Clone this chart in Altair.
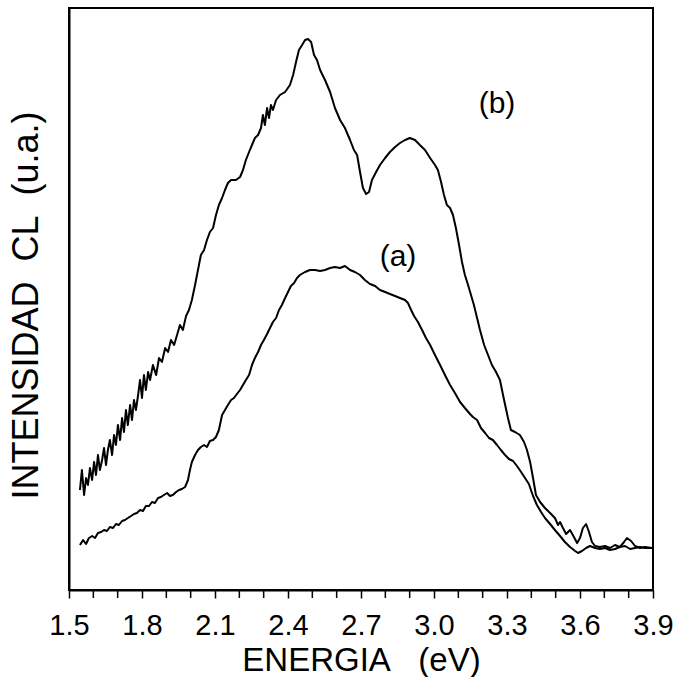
import altair as alt
import pandas as pd

# Curve (b): energy (eV) and CL intensity (arbitrary units)
energy_b = [1.545, 1.553, 1.562, 1.570, 1.578, 1.586, 1.595, 1.603, 1.611, 1.619,
            1.627, 1.636, 1.644, 1.652, 1.660, 1.668, 1.677, 1.685, 1.693, 1.701,
            1.710, 1.718, 1.726, 1.734, 1.742, 1.751, 1.759, 1.767, 1.775, 1.784,
            1.792, 1.800, 1.808, 1.816, 1.825, 1.833, 1.845, 1.858, 1.870, 1.882,
            1.895, 1.907, 1.919, 1.932, 1.944, 1.956, 1.968, 1.981, 1.993, 2.005,
            2.018, 2.030, 2.042, 2.055, 2.067, 2.079, 2.092, 2.104, 2.116, 2.129,
            2.141, 2.153, 2.166, 2.186, 2.203, 2.215, 2.227, 2.240, 2.252, 2.264,
            2.277, 2.289, 2.297, 2.305, 2.314, 2.322, 2.330, 2.338, 2.351, 2.367,
            2.388, 2.408, 2.421, 2.433, 2.445, 2.458, 2.470, 2.482, 2.495, 2.507,
            2.519, 2.532, 2.552, 2.573, 2.593, 2.614, 2.634, 2.655, 2.671, 2.684,
            2.696, 2.708, 2.721, 2.733, 2.745, 2.762, 2.778, 2.799, 2.819, 2.840,
            2.860, 2.881, 2.901, 2.922, 2.942, 2.963, 2.984, 3.004, 3.016, 3.029,
            3.041, 3.053, 3.066, 3.078, 3.090, 3.103, 3.115, 3.127, 3.140, 3.152,
            3.164, 3.177, 3.189, 3.206, 3.222, 3.238, 3.255, 3.271, 3.288, 3.304,
            3.316, 3.333, 3.353, 3.370, 3.382, 3.395, 3.407, 3.419, 3.436, 3.456,
            3.477, 3.497, 3.510, 3.518, 3.530, 3.543, 3.559, 3.575, 3.588, 3.600,
            3.612, 3.625, 3.637, 3.649, 3.662, 3.682, 3.703, 3.723, 3.744, 3.764,
            3.781, 3.793, 3.810, 3.826, 3.847, 3.867, 3.896]
intens_b = [100, 120, 95, 112, 105, 122, 110, 128, 115, 135,
            120, 130, 142, 125, 140, 150, 135, 155, 145, 165,
            150, 172, 158, 180, 165, 185, 170, 190, 180, 195,
            210, 192, 215, 200, 218, 210, 225, 215, 232, 228,
            242, 238, 250, 245, 255, 265, 260, 274, 280, 290,
            305, 320, 335, 340, 350, 358, 362, 375, 385, 392,
            400, 407, 410, 410, 413, 420, 430, 438, 445, 452,
            455, 462, 475, 465, 482, 472, 485, 480, 490, 495,
            498, 505, 515, 528, 540, 545, 550, 551, 548, 535,
            530, 520, 510, 498, 482, 470, 462, 450, 440, 435,
            418, 402, 396, 398, 410, 418, 425, 432, 438, 443,
            447, 450, 452, 450, 445, 440, 432, 425, 420, 408,
            395, 385, 382, 375, 362, 345, 328, 315, 305, 295,
            285, 272, 260, 245, 235, 225, 218, 210, 190, 172,
            160, 158, 155, 148, 140, 128, 112, 95, 88, 82,
            77, 72, 65, 68, 62, 56, 60, 53, 47, 52,
            62, 66, 58, 48, 44, 43, 44, 42, 45, 43,
            48, 52, 49, 44, 42, 43, 42]

# Curve (a)
energy_a = [1.545, 1.558, 1.570, 1.582, 1.595, 1.607, 1.619, 1.632, 1.644, 1.656,
            1.668, 1.681, 1.693, 1.705, 1.718, 1.730, 1.742, 1.755, 1.767, 1.779,
            1.792, 1.804, 1.816, 1.829, 1.841, 1.853, 1.866, 1.878, 1.890, 1.903,
            1.915, 1.927, 1.940, 1.952, 1.964, 1.977, 1.989, 1.997, 2.005, 2.018,
            2.030, 2.042, 2.055, 2.067, 2.079, 2.092, 2.104, 2.116, 2.129, 2.141,
            2.153, 2.166, 2.178, 2.190, 2.203, 2.215, 2.227, 2.240, 2.252, 2.264,
            2.277, 2.289, 2.301, 2.314, 2.326, 2.338, 2.351, 2.363, 2.375, 2.388,
            2.400, 2.412, 2.425, 2.437, 2.449, 2.470, 2.490, 2.511, 2.532, 2.552,
            2.573, 2.593, 2.614, 2.634, 2.655, 2.675, 2.696, 2.716, 2.737, 2.758,
            2.778, 2.799, 2.819, 2.840, 2.860, 2.881, 2.893, 2.906, 2.918, 2.934,
            2.951, 2.967, 2.984, 3.004, 3.025, 3.045, 3.066, 3.086, 3.107, 3.127,
            3.148, 3.160, 3.177, 3.193, 3.210, 3.226, 3.242, 3.259, 3.275, 3.292,
            3.308, 3.325, 3.341, 3.358, 3.374, 3.390, 3.407, 3.423, 3.440, 3.456,
            3.477, 3.497, 3.518, 3.538, 3.559, 3.580, 3.592, 3.608, 3.625, 3.641,
            3.662, 3.682, 3.703, 3.723, 3.744, 3.764, 3.785, 3.806, 3.826, 3.847,
            3.867, 3.896]
intens_a = [45, 50, 46, 52, 54, 52, 57, 58, 60, 59,
            63, 62, 66, 65, 69, 70, 72, 74, 76, 77,
            80, 79, 84, 84, 88, 87, 92, 93, 95, 97,
            94, 95, 98, 100, 101, 103, 110, 120, 128, 135,
            140, 143, 145, 143, 149, 150, 153, 160, 175, 180,
            185, 190, 192, 196, 200, 205, 210, 215, 225, 232,
            238, 245, 250, 256, 262, 268, 272, 280, 285, 292,
            298, 304, 307, 312, 315, 318, 320, 320, 319, 320,
            322, 323, 322, 324, 320, 318, 315, 310, 306, 304,
            300, 298, 296, 294, 292, 290, 287, 280, 274, 268,
            260, 252, 245, 235, 225, 215, 205, 197, 188, 182,
            176, 173, 170, 162, 157, 152, 150, 145, 140, 135,
            131, 129, 124, 118, 112, 106, 94, 85, 78, 72,
            66, 60, 54, 48, 43, 39, 37, 39, 42, 44,
            42, 41, 42, 40, 41, 43, 44, 41, 42, 43,
            42, 42]

major_ticks = [1.5, 1.8, 2.1, 2.4, 2.7, 3.0, 3.3, 3.6, 3.9]
minor_ticks = [1.6, 1.7, 1.9, 2.0, 2.2, 2.3, 2.5, 2.6, 2.8, 2.9, 3.1, 3.2,
               3.4, 3.5, 3.7, 3.8]

label_text = ["(a)", "(b)"]
label_e = [2.852, 3.259]
label_i = [333, 486]

df = pd.concat([
    pd.DataFrame({"E": energy_b, "I": intens_b, "s": "b"}),
    pd.DataFrame({"E": energy_a, "I": intens_a, "s": "a"}),
])
lab = pd.DataFrame({"t": label_text, "E": label_e, "I": label_i})
minor = pd.DataFrame({"E": minor_ticks})

FONT = "Liberation Sans"

x_enc = alt.X(
    "E:Q",
    scale=alt.Scale(domain=[1.5, 3.9], nice=False, zero=False),
    axis=alt.Axis(
        values=major_ticks,
        format=".1f",
        title="ENERGIA\u00a0\u00a0\u00a0(eV)",
        titleFont=FONT, titleFontSize=33, titleFontWeight="normal", titleColor="black",
        titleY=80, titleBaseline="alphabetic",
        labelFont=FONT, labelFontSize=29, labelColor="black",
        labelBaseline="alphabetic", labelPadding=36,
        labelOverlap=False, labelFlush=False, labelSeparation=0,
        tickSize=8, tickWidth=1.5, tickColor="black",
        domainColor="black", domainWidth=2, grid=False,
    ),
)
y_enc = alt.Y(
    "I:Q",
    scale=alt.Scale(domain=[0, 582], nice=False, zero=False),
    axis=alt.Axis(
        title="INTENSIDAD\u00a0\u00a0CL\u00a0\u00a0(u.a.)",
        titleFont=FONT, titleFontSize=36, titleFontWeight="normal", titleColor="black",
        titleAngle=270, titleX=-32, titleY=297, titleAlign="center",
        titleBaseline="alphabetic",
        labels=False, ticks=False, grid=False,
        domainColor="black", domainWidth=2,
    ),
)

lines = alt.Chart(df).mark_line(color="black", strokeWidth=2, strokeJoin="round").encode(
    x=x_enc, y=y_enc, detail="s:N"
)
minor_rules = alt.Chart(minor).mark_rule(color="black", strokeWidth=1.5).encode(
    x="E:Q", y=alt.value(582), y2=alt.value(590)
)
texts = alt.Chart(lab).mark_text(font=FONT, fontSize=30, color="black",
                                 align="center", baseline="middle").encode(
    x="E:Q", y="I:Q", text="t:N"
)

chart = alt.layer(lines, minor_rules, texts).properties(
    width=584, height=582,
    autosize=alt.AutoSizeParams(type="none"),
    padding={"left": 69, "top": 8, "right": 20, "bottom": 87},
    background="white",
).configure_view(stroke="black", strokeWidth=2)

chart.save("out.html", embed_options={"renderer": "svg", "actions": False})
